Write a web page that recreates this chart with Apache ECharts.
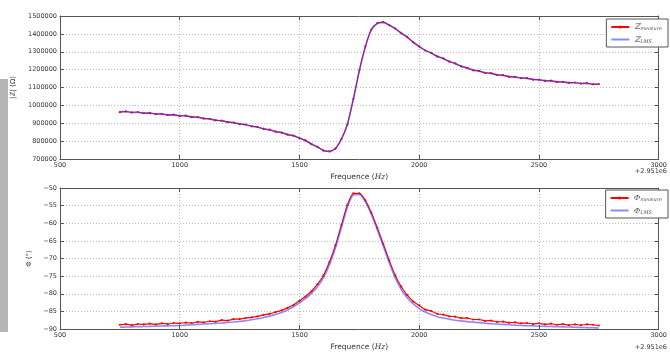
<!DOCTYPE html>
<html>
<head>
<meta charset="utf-8">
<script src="https://cdn.jsdelivr.net/npm/echarts@6/dist/echarts.min.js"></script>
<style>
  html, body { margin: 0; padding: 0; background: #fff; }
  #chart { width: 670px; height: 352px; }
</style>
</head>
<body>
<div id="chart"></div>
<script>
// frequency offsets (Hz, relative to 2.951e6)
const freq = [
  750, 775, 800, 825, 850, 875, 900, 925, 950, 975,
  1000, 1025, 1050, 1075, 1100, 1125, 1150, 1175, 1200, 1225,
  1250, 1275, 1300, 1325, 1350, 1375, 1400, 1425, 1450, 1475,
  1500, 1525, 1550, 1575, 1600, 1625, 1650, 1675, 1700, 1725,
  1750, 1775, 1800, 1825, 1850, 1875, 1900, 1925, 1950, 1975,
  2000, 2025, 2050, 2075, 2100, 2125, 2150, 2175, 2200, 2225,
  2250, 2275, 2300, 2325, 2350, 2375, 2400, 2425, 2450, 2475,
  2500, 2525, 2550, 2575, 2600, 2625, 2650, 2675, 2700, 2725,
  2750
];

const zMeasure = [
  962000, 966000, 960000, 963000, 956000, 958000, 951000, 953000, 946000, 948000,
  941000, 943000, 934000, 935000, 926000, 925000, 916000, 915000, 906000, 904000,
  895000, 893000, 883000, 879000, 868000, 864000, 853000, 848000, 836000, 831000,
  816000, 804000, 783000, 768000, 747000, 743000, 758000, 812000, 893000, 1037000,
  1196000, 1329000, 1423000, 1460000, 1466000, 1448000, 1430000, 1403000, 1383000, 1352000,
  1330000, 1307000, 1294000, 1273000, 1263000, 1245000, 1235000, 1218000, 1210000, 1196000,
  1193000, 1181000, 1180000, 1170000, 1169000, 1160000, 1160000, 1152000, 1152000, 1144000,
  1144000, 1137000, 1138000, 1131000, 1132000, 1126000, 1128000, 1122000, 1124000, 1118000,
  1119000
];

const zLms = [
  965000, 964000, 962000, 960000, 958000, 955500, 953000, 950500, 948000, 945500,
  943000, 940000, 937000, 932500, 928000, 923000, 918000, 913000, 908000, 902500,
  897000, 891000, 885000, 877500, 870000, 862500, 855000, 846500, 838000, 829000,
  818000, 802000, 785000, 766000, 749000, 741000, 760000, 810000, 895000, 1035000,
  1195000, 1327000, 1425000, 1458000, 1463000, 1450000, 1428000, 1405000, 1381000, 1355000,
  1328000, 1309000, 1292000, 1276000, 1261000, 1247000, 1233000, 1220000, 1208000, 1199000,
  1191000, 1184000, 1178000, 1172000, 1167000, 1162000, 1158000, 1154000, 1150000, 1146000,
  1142000, 1139000, 1136000, 1133000, 1130000, 1128000, 1126000, 1124000, 1122000, 1120000,
  1118000
];

const phiMeasure = [
  -88.8, -88.6, -88.9, -88.6, -88.7, -88.5, -88.7, -88.4, -88.6, -88.3,
  -88.4, -88.2, -88.3, -88.0, -88.1, -87.8, -87.9, -87.5, -87.6, -87.2,
  -87.2, -86.9, -86.7, -86.4, -86.0, -85.7, -85.2, -84.7, -84.0, -83.2,
  -82.0, -80.8, -79.3, -77.3, -74.8, -71.0, -66.3, -60.5, -54.8, -51.5,
  -51.5, -53.5, -57.0, -61.3, -65.9, -70.6, -74.8, -78.0, -80.4, -82.2,
  -83.3, -84.5, -84.9, -85.7, -85.9, -86.4, -86.5, -86.9, -86.9, -87.3,
  -87.3, -87.7, -87.6, -88.0, -87.9, -88.2, -88.1, -88.4, -88.3, -88.6,
  -88.4, -88.7, -88.5, -88.8, -88.6, -88.9, -88.7, -88.9, -88.7, -88.8,
  -89.0
];

const phiLms = [
  -89.5, -89.45, -89.4, -89.35, -89.3, -89.25, -89.2, -89.15, -89.1, -89.05,
  -89.0, -88.9, -88.8, -88.7, -88.6, -88.5, -88.4, -88.3, -88.15, -88.0,
  -87.85, -87.65, -87.4, -87.1, -86.75, -86.35, -85.85, -85.3, -84.6, -83.7,
  -82.6, -81.4, -79.9, -78.0, -75.5, -71.8, -67.0, -61.3, -55.5, -52.0,
  -51.8, -53.9, -57.5, -61.9, -66.5, -71.3, -75.5, -78.8, -81.2, -82.9,
  -84.2, -85.2, -85.9, -86.5, -86.9, -87.2, -87.5, -87.7, -87.9, -88.05,
  -88.2, -88.35, -88.5, -88.6, -88.7, -88.8, -88.9, -89.0, -89.05, -89.1,
  -89.2, -89.25, -89.3, -89.35, -89.4, -89.45, -89.5, -89.55, -89.6, -89.65,
  -89.7
];

const chart = echarts.init(document.getElementById('chart'));

const FONT = 'DejaVu Sans';
const TXT = '#333';
const FRAME = '#555';
const plain = (v) => String(v).replace('-', '\u2212');

function pairs(ys) {
  return freq.map((f, i) => [f, ys[i]]);
}

function xAxes(gridIndex) {
  const base = {
    type: 'value', gridIndex, min: 500, max: 3000, interval: 500,
    axisLine: { show: true, onZero: false, lineStyle: { color: FRAME, width: 1 } },
    axisTick: { show: true, inside: true, length: 4, lineStyle: { color: FRAME } }
  };
  return [
    Object.assign({}, base, {
      position: 'bottom',
      name: 'Frequence ({i|Hz})',
      nameLocation: 'middle',
      nameGap: 14,
      nameTextStyle: {
        fontFamily: FONT, fontSize: 7.5, color: TXT,
        rich: { i: { fontFamily: 'DejaVu Serif', fontStyle: 'italic', fontSize: 7.5, color: TXT } }
      },
      axisLabel: { fontFamily: FONT, fontSize: 6.5, color: TXT, margin: 3, formatter: plain },
      splitLine: { show: true, lineStyle: { color: '#aaa', type: [1, 2], width: 0.8 } }
    }),
    Object.assign({}, base, {
      position: 'top', axisLabel: { show: false }, splitLine: { show: false }
    })
  ];
}

function yAxes(gridIndex, min, max, interval, name, gap) {
  const base = {
    type: 'value', gridIndex, min, max, interval,
    axisLine: { show: true, onZero: false, lineStyle: { color: FRAME, width: 1 } },
    axisTick: { show: true, inside: true, length: 4, lineStyle: { color: FRAME } }
  };
  return [
    Object.assign({}, base, {
      position: 'left',
      name,
      nameLocation: 'middle',
      nameGap: gap,
      nameTextStyle: { fontFamily: FONT, fontSize: 7, color: TXT },
      axisLabel: { fontFamily: FONT, fontSize: 6.5, color: TXT, margin: 3, formatter: plain },
      splitLine: { show: true, lineStyle: { color: '#aaa', type: [1, 2], width: 0.8 } }
    }),
    Object.assign({}, base, {
      position: 'right', axisLabel: { show: false }, splitLine: { show: false }
    })
  ];
}

const legendRich = {
  s: { fontFamily: 'DejaVu Serif', fontStyle: 'italic', fontSize: 8, color: '#555' },
  sub: { fontFamily: 'DejaVu Serif', fontStyle: 'italic', fontSize: 5, color: '#555', verticalAlign: 'bottom', padding: [4, 0, 0, 0] }
};

function legendBox(top, names, sym) {
  return {
    orient: 'vertical',
    right: 2,
    top,
    data: [
      { name: names[0] },
      { name: names[1], itemStyle: { opacity: 0 } }
    ],
    backgroundColor: '#fff',
    borderColor: '#555',
    borderWidth: 1,
    borderRadius: 0,
    padding: [4, 6, 3, 4],
    itemWidth: 18,
    itemHeight: 4,
    itemGap: 4,
    textStyle: { rich: legendRich },
    formatter: (n) => '{s|' + sym + '}{sub|' + (n.indexOf('measure') >= 0 ? 'measure' : 'LMS') + '}'
  };
}

const redLine = (name, data, xi, yi) => ({
  name, type: 'line', xAxisIndex: xi, yAxisIndex: yi, data,
  symbol: 'circle', symbolSize: 2.2, showSymbol: true, smooth: 0.2,
  lineStyle: { color: '#ff0000', width: 1.2 },
  itemStyle: { color: '#ff0000' },
  animation: false, z: 2
});

const blueLine = (name, data, xi, yi) => ({
  name, type: 'line', xAxisIndex: xi, yAxisIndex: yi, data,
  symbol: 'none', smooth: 0.3,
  lineStyle: { color: 'rgba(60,60,255,0.6)', width: 1.6 },
  itemStyle: { color: 'rgba(60,60,255,0.6)' },
  animation: false, z: 3
});

chart.setOption({
  backgroundColor: '#fff',
  grid: [
    { left: 60, top: 16, width: 607, height: 143 },
    { left: 60, top: 188, width: 607, height: 144 }
  ],
  xAxis: [...xAxes(0), ...xAxes(1)],
  yAxis: [
    ...yAxes(0, 700000, 1500000, 100000, '|\u2124| (\u03a9)', 40),
    ...yAxes(1, -90, -50, 5, '\u03a6 (\u00b0)', 25)
  ],
  legend: [
    legendBox(19, ['Z_measure', 'Z_LMS'], '\u2124'),
    legendBox(190, ['Phi_measure', 'Phi_LMS'], '\u03a6')
  ],
  series: [
    redLine('Z_measure', pairs(zMeasure), 0, 0),
    blueLine('Z_LMS', pairs(zLms), 0, 0),
    redLine('Phi_measure', pairs(phiMeasure), 2, 2),
    blueLine('Phi_LMS', pairs(phiLms), 2, 2)
  ],
  graphic: [
    { type: 'rect', left: 0, top: 79, shape: { width: 8, height: 253 }, style: { fill: '#b4b4b4' }, silent: true },
    { type: 'text', right: 3, top: 168, style: { text: '+2.951e6', font: '6.5px "DejaVu Sans"', fill: TXT } },
    { type: 'text', right: 3, top: 344, style: { text: '+2.951e6', font: '6.5px "DejaVu Sans"', fill: TXT } }
  ]
});
</script>
</body>
</html>
